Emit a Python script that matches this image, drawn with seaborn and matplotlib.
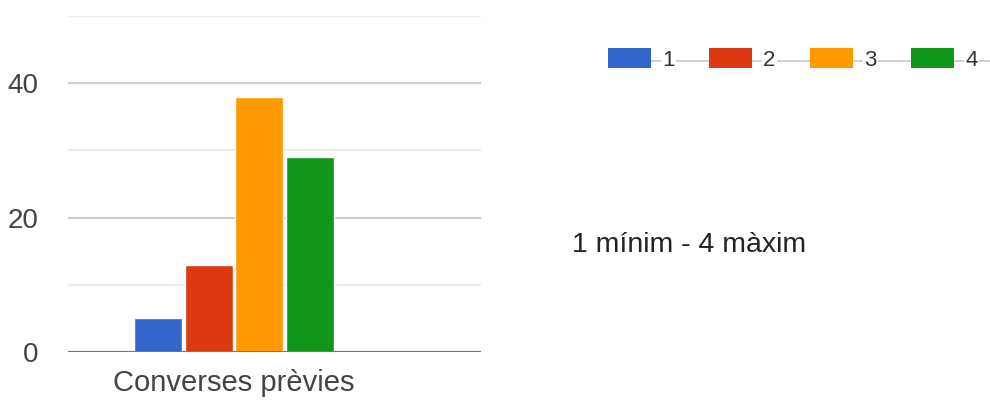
import matplotlib
matplotlib.use("Agg")
import matplotlib.pyplot as plt
from matplotlib.patches import Rectangle
import seaborn as sns
import pandas as pd

# Survey results: rating counts (1 = minimum, 4 = maximum)
categories = ["Converses prèvies"]
ratings = ["1", "2", "3", "4"]
counts = [5, 13, 38, 29]
colors = ["#3366cc", "#dc3912", "#ff9900", "#109618"]
y_major_ticks = [0, 20, 40]
y_minor_ticks = [10, 30, 50]
note_text = "1 mínim - 4 màxim"

df = pd.DataFrame({
    "pregunta": categories * len(ratings),
    "valoració": ratings,
    "respostes": counts,
})

sns.set_theme(style="white")
plt.rcParams["font.family"] = ["Liberation Sans", "DejaVu Sans"]

W, H = 990, 401
fig = plt.figure(figsize=(W / 100, H / 100), dpi=100)
fig.patch.set_facecolor("white")

# Plot area in pixel terms: x 68..481, y 16..352
left_px, right_px, top_px, bottom_px = 68, 481, 16, 352
ax = fig.add_axes([left_px / W, (H - bottom_px) / H,
                   (right_px - left_px) / W, (bottom_px - top_px) / H])

sns.barplot(data=df, x="pregunta", y="respostes", hue="valoració",
            hue_order=ratings, palette=colors, width=0.8, gap=0.05,
            saturation=1, legend=False, ax=ax, zorder=3)

# Category centred at px 234; dodged group 0.8 wide spans ~202 px
px_per_unit = 252.5
ax.set_xlim(-(234 - left_px) / px_per_unit, (right_px - 234) / px_per_unit)
ax.set_ylim(0, 50)

ax.set_yticks(y_major_ticks)
ax.set_yticks(y_minor_ticks, minor=True)
ax.grid(axis="y", which="major", color="#cfcfcf", linewidth=1.6, zorder=0)
ax.grid(axis="y", which="minor", color="#ececec", linewidth=1.6, zorder=0)
ax.grid(axis="x", visible=False)
ax.axhline(0, color="#777777", linewidth=2.2, zorder=4)

for s in ax.spines.values():
    s.set_visible(False)
ax.set_xlabel("")
ax.set_ylabel("")
ax.tick_params(axis="y", which="both", length=0, pad=21, labelsize=20,
               labelcolor="#444444")
ax.tick_params(axis="x", length=0, pad=12, labelsize=21, labelcolor="#444444")

# Legend drawn in pixel coordinates across the top right
lax = fig.add_axes([0, 0, 1, 1], zorder=5)
lax.set_xlim(0, W)
lax.set_ylim(H, 0)
lax.axis("off")
lax.patch.set_alpha(0)
lax.plot([651, W], [61, 61], color="#c4c4c4", linewidth=1.1, zorder=1)
sw_x0, sw_step, sw_w, sw_h, sw_top = 608, 101, 43, 20, 48
for i, (lab, col) in enumerate(zip(ratings, colors)):
    x0 = sw_x0 + i * sw_step
    lax.add_patch(Rectangle((x0, sw_top), sw_w, sw_h, facecolor=col,
                            edgecolor="none", zorder=2))
    lax.text(x0 + sw_w + 11, 61, lab, ha="left", va="center",
             fontsize=16, color="#333333", zorder=3,
             bbox=dict(facecolor="white", edgecolor="none", pad=1.0))

fig.text(572 / W, (H - 252) / H, note_text, ha="left", va="baseline",
         fontsize=20.5, color="#222222")

fig.savefig("out.png", dpi=100)
